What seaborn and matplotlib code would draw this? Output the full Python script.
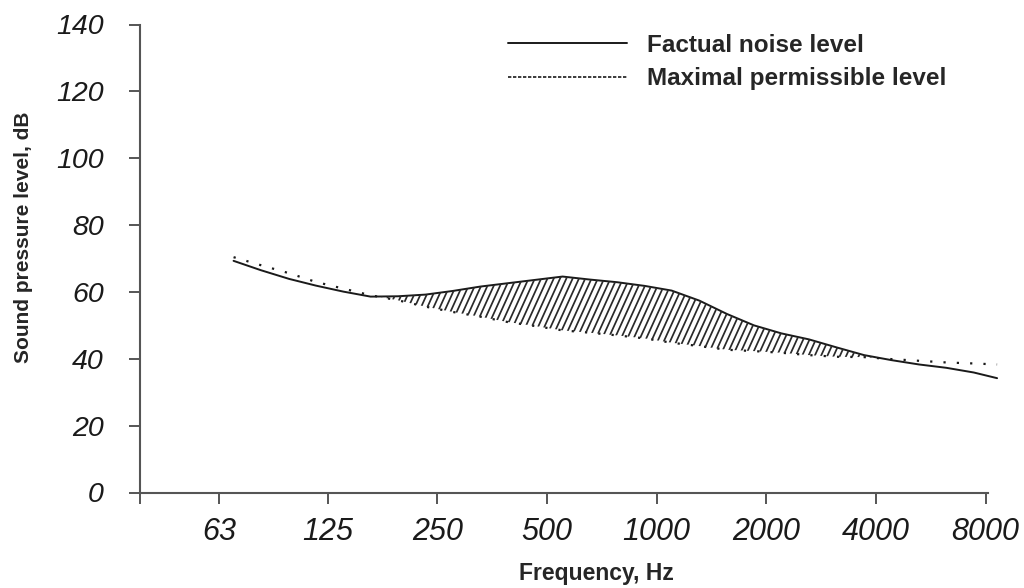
import matplotlib
matplotlib.use("Agg")
import matplotlib.pyplot as plt
import seaborn as sns
import numpy as np
import pandas as pd
from matplotlib.lines import Line2D
from matplotlib.collections import LineCollection
from matplotlib.path import Path

# levels at roughly quarter-octave steps
freq = [69, 82, 98, 116, 138, 164, 195, 232, 276, 328, 390, 464, 552, 656, 780,
        928, 1100, 1310, 1560, 1850, 2200, 2620, 3120, 3710, 4410, 5250, 6240, 7420, 8600]
factual = [69.3, 66.5, 63.9, 61.9, 60.1, 58.6, 58.7, 59.2, 60.3, 61.6, 62.6, 63.6, 64.6, 63.7, 62.9,
           61.8, 60.4, 57.4, 53.4, 50.0, 47.6, 45.8, 43.4, 41.1, 39.6, 38.3, 37.3, 35.9, 34.2]
maximal = [70.4, 68.0, 65.6, 63.0, 61.0, 59.0, 57.5, 55.6, 54.0, 52.6, 51.0, 49.8, 48.5, 47.8, 47.0,
           46.1, 44.8, 43.8, 42.7, 42.3, 41.8, 41.1, 40.6, 40.5, 39.9, 39.4, 38.9, 38.6, 38.3]

tick_freq = [63, 125, 250, 500, 1000, 2000, 4000, 8000]
y_ticks = [0, 20, 40, 60, 80, 100, 120, 140]

df = pd.DataFrame({"freq": freq, "factual": factual, "maximal": maximal})

sns.set_style("white")
plt.rcParams["font.family"] = ["Liberation Sans", "DejaVu Sans"]

fig = plt.figure(figsize=(10.24, 5.88), dpi=100)
ax = fig.add_axes([140 / 1024, 95.5 / 588, 848 / 1024, 468 / 588])

sns.lineplot(data=df, x="freq", y="factual", ax=ax, color="#1a1a1a", lw=1.4,
             legend=False, clip_on=False)
sns.lineplot(data=df, x="freq", y="maximal", ax=ax, color="#1a1a1a", lw=1.6,
             linestyle=(0, (1, 5)), legend=False, clip_on=False)

ax.set_xscale("log", base=2)
ax.set_xlim(38.2, 8120)
ax.set_ylim(0, 140)

# area where the factual noise exceeds the permissible level, steep hatching
poly = ax.fill_between(df["freq"], df["maximal"], df["factual"],
                       where=df["factual"] >= df["maximal"], interpolate=True,
                       facecolor="none", edgecolor="none")
clip = Path.make_compound_path(*poly.get_paths())
step = 6.3 / 848
slope = 2.2 * 848 / 468
segs = [[(x, 0), (x + 1 / slope, 1)] for x in np.arange(-0.6, 1.0, step)]
hatch = LineCollection(segs, colors="#2a2a2a", linewidths=1.25, transform=ax.transAxes)
ax.add_collection(hatch, autolim=False)
hatch.set_clip_path(clip, ax.transData)

ax.set_xticks(tick_freq)
ax.set_xticklabels([str(f) for f in tick_freq])
ax.minorticks_off()
ax.set_xticks([38.2], minor=True)
ax.set_yticks(y_ticks)

for lab in ax.get_xticklabels():
    lab.set_style("italic")
    lab.set_fontsize(22)
    lab.set_color("#1a1a1a")
for lab in ax.get_yticklabels():
    lab.set_style("italic")
    lab.set_fontsize(20.5)
    lab.set_color("#1a1a1a")

ax.tick_params(axis="both", which="both", direction="out", length=8, width=1.4,
               color="#555555", bottom=True, left=True)
ax.tick_params(axis="x", which="minor", labelbottom=False)
ax.tick_params(axis="x", pad=10)
ax.tick_params(axis="y", pad=18)

sns.despine(ax=ax)
for s in ["left", "bottom"]:
    ax.spines[s].set_color("#555555")
    ax.spines[s].set_linewidth(1.5)

ax.set_xlabel("Frequency, Hz", fontsize=16.5, fontweight="bold", va="top")
ax.xaxis.set_label_coords(0.538, -0.149)
ax.set_ylabel("Sound pressure level, dB", fontsize=15, fontweight="bold")
ax.yaxis.set_label_coords(-0.126, 0.546)

handles = [Line2D([], [], color="#1a1a1a", lw=1.4),
           Line2D([], [], color="#1a1a1a", lw=1.2, linestyle=(0, (2, 1)))]
ax.legend(handles, ["Factual noise level", "Maximal permissible level"],
          loc="upper left", bbox_to_anchor=(508 / 1024, 1 - 34 / 588),
          bbox_transform=fig.transFigure, frameon=False, borderpad=0, borderaxespad=0,
          handlelength=4.9, handletextpad=0.82, labelspacing=0.42,
          prop={"weight": "bold", "size": 17.5})

fig.savefig("out.png", dpi=100)
